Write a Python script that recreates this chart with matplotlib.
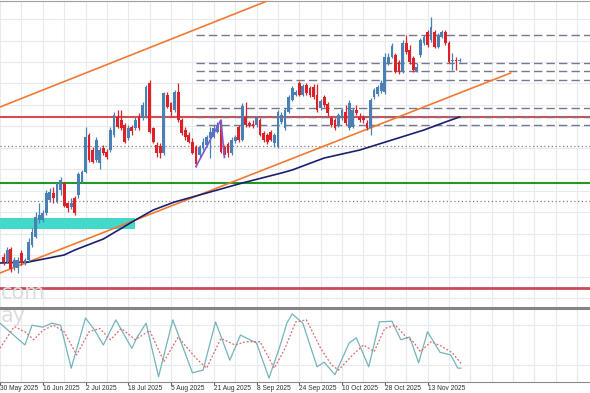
import matplotlib
matplotlib.use('Agg')
import matplotlib.pyplot as plt
from matplotlib.patches import Rectangle
import numpy as np

# daily candles, bar 0 = 30 May 2025 (first visible bar is 1)
opens = [147.17, 146.92, 147.53, 146.67, 146.58, 147.37, 146.83, 147.0, 147.75, 148.17,
         149.0, 149.0, 149.33, 150.0, 150.33, 149.92, 150.5, 150.83, 149.83, 149.63,
         150.08, 150.25, 150.92, 151.42, 153.25, 152.5, 152.0, 151.83, 152.58, 152.42,
         152.5, 153.25, 154.17, 154.0, 153.75, 153.08, 153.63, 153.58, 154.17, 154.08,
         154.17, 155.83, 153.58, 152.75, 152.7, 152.33, 155.25, 154.83, 154.5, 155.42,
         154.0, 153.5, 153.25, 152.92, 152.67, 152.25, 152.58, 152.75, 153.08, 153.17,
         153.42, 153.83, 152.67, 152.8, 152.35, 152.95, 153.65, 153.0, 154.15, 153.85,
         153.8, 153.75, 154.0, 153.35, 153.25, 153.4, 152.85, 152.65, 153.9, 153.6,
         154.4, 155.0, 155.25, 155.85, 155.25, 155.75, 155.6, 155.65, 155.25, 154.6,
         155.15, 154.8, 154.1, 154.0, 153.75, 154.1, 154.4, 153.6, 153.65, 154.5,
         154.15, 154.15, 153.85, 153.6, 155.15, 155.3, 155.45, 155.4, 156.85, 157.15,
         157.25, 156.9, 156.4, 157.85, 157.5, 157.1, 156.45, 157.25, 157.85, 158.4,
         158.0, 158.4, 157.65, 158.15, 158.4, 157.85, 156.95, 157.0, 156.95]
highs = [147.33, 147.67, 147.63, 147.17, 147.17, 147.5, 147.08, 148.08, 148.58, 149.42,
         149.83, 149.5, 150.5, 150.58, 150.67, 150.92, 151.17, 150.92, 149.92, 150.08,
         150.2, 151.42, 151.5, 153.67, 153.33, 152.67, 153.17, 152.67, 152.75, 152.53,
         153.67, 154.42, 154.5, 154.5, 153.83, 153.75, 153.75, 154.17, 154.33, 154.92,
         155.75, 156.0, 153.67, 152.92, 152.83, 155.42, 155.42, 154.92, 155.5, 155.83,
         154.08, 153.67, 153.42, 153.08, 152.75, 152.75, 153.08, 153.25, 153.67, 153.75,
         153.92, 154.0, 152.75, 152.92, 153.15, 153.25, 153.75, 154.85, 154.9, 153.95,
         154.0, 154.2, 154.1, 153.45, 153.35, 153.5, 153.35, 154.5, 154.4, 154.6,
         155.25, 155.7, 155.5, 155.95, 155.8, 155.85, 155.7, 155.8, 155.8, 155.05,
         155.25, 154.9, 154.2, 154.1, 154.35, 154.6, 154.75, 155.0, 154.6, 154.75,
         154.35, 154.25, 154.0, 155.1, 155.6, 155.75, 156.0, 157.35, 157.35, 157.85,
         157.35, 157.0, 158.0, 158.25, 157.75, 157.2, 156.85, 158.1, 158.25, 158.5,
         159.15, 158.5, 158.35, 158.5, 158.5, 157.95, 157.35, 157.15, 157.1]
lows = [146.75, 146.83, 146.42, 146.5, 146.37, 146.75, 146.75, 146.92, 147.67, 148.08,
        148.83, 148.92, 149.25, 149.92, 149.83, 149.83, 150.25, 149.63, 149.42, 149.53,
        149.25, 150.08, 150.83, 151.33, 151.92, 151.83, 151.92, 151.53, 152.25, 152.03,
        152.42, 153.17, 153.58, 153.5, 152.83, 153.0, 153.25, 153.5, 153.5, 154.0,
        154.08, 153.33, 152.83, 152.17, 152.08, 152.25, 154.58, 154.17, 154.42, 153.92,
        153.25, 153.0, 152.83, 152.3, 151.67, 152.17, 152.5, 152.67, 152.08, 153.08,
        153.33, 152.33, 152.13, 152.17, 152.25, 152.85, 152.9, 152.95, 153.65, 153.65,
        153.6, 153.65, 153.2, 152.9, 152.8, 152.95, 152.65, 152.6, 153.8, 153.5,
        154.35, 154.95, 155.2, 155.2, 155.2, 155.25, 155.15, 155.05, 154.4, 154.5,
        154.65, 154.2, 153.65, 153.5, 153.65, 154.0, 153.75, 153.5, 153.6, 154.25,
        153.9, 153.85, 153.5, 153.25, 155.05, 155.2, 155.35, 155.3, 156.75, 157.1,
        156.35, 156.3, 156.35, 157.3, 156.8, 156.4, 156.4, 157.15, 157.75, 157.65,
        157.9, 157.6, 157.6, 158.1, 157.75, 156.85, 156.5, 156.5, 156.9]
closes = [146.92, 147.5, 146.53, 147.0, 147.0, 146.83, 147.0, 147.92, 148.42, 149.17,
          149.25, 149.33, 150.33, 150.42, 150.08, 150.83, 151.0, 149.7, 149.58, 149.83,
          149.33, 151.3, 151.42, 153.17, 152.0, 151.92, 153.0, 152.5, 152.37, 152.13,
          153.5, 154.25, 153.67, 153.58, 152.92, 153.58, 153.47, 154.0, 153.58, 154.75,
          155.67, 153.42, 152.92, 152.33, 152.33, 155.33, 154.67, 154.42, 155.42, 154.0,
          153.33, 153.17, 152.92, 152.37, 151.8, 152.63, 152.92, 153.17, 153.42, 153.58,
          153.75, 152.42, 152.25, 152.33, 153.0, 153.15, 153.0, 154.7, 153.75, 153.75,
          153.7, 154.1, 153.25, 153.0, 152.9, 153.0, 153.25, 154.4, 154.25, 154.5,
          155.15, 155.6, 155.4, 155.25, 155.7, 155.35, 155.25, 155.15, 154.5, 154.95,
          154.75, 154.35, 153.75, 153.6, 154.25, 154.5, 153.85, 154.85, 154.5, 154.35,
          154.0, 154.0, 153.6, 155.0, 155.5, 155.65, 155.85, 157.15, 157.15, 157.7,
          156.4, 156.4, 157.85, 157.4, 156.9, 156.5, 156.65, 158.0, 158.15, 157.75,
          158.65, 157.65, 158.25, 158.4, 157.85, 156.9, 157.0, 156.95, 157.0]

# moving average read at a few bars
ma_idx = [0, 8, 18, 21, 29, 38, 43, 49, 61, 68, 79, 82, 91, 101, 110, 119, 125, 129]
ma_val = [146.85, 146.9, 147.25, 147.5, 148.05, 149.0, 149.5, 149.9, 150.5, 150.85,
          151.35, 151.5, 152.1, 152.5, 153.0, 153.5, 153.9, 154.15]

# trend channel
chan_low_x = [0, 143.3]
chan_low_y = [146.35, 156.35]
chan_up_x = [0, 75.7]
chan_up_y = [154.65, 160.0]

# zigzag drawn on the Aug dip
zz_idx = [55, 62, 63]
zz_val = [151.67, 154.0, 152.13]

# levels
fib_start = 55
fib_levels = [158.25, 156.85, 156.45, 156.0, 154.6, 154.15, 153.75]
red_levels = [154.15, 145.6]
green_level = 150.85
dotted_levels = [152.7, 149.95]
zone_x = [-3, 38.0]
zone_y = [148.55, 149.1]

# stochastic
k_idx = [0, 7, 9, 12, 14.5, 17, 20, 24, 26.5, 29, 32.5, 37, 38.5, 41, 44.5, 48.5,
         54, 57, 60.5, 64.5, 67.5, 72, 75.5, 78.5, 80.5, 82, 85, 89, 91, 94, 98, 100,
         103.5, 106.5, 110, 112.5, 115, 117.5, 120, 123.5, 126.5, 128.5, 129.4]
k_val = [83, 50, 80, 77, 83, 80, 15, 91, 73, 50, 88, 45, 62, 83, 2, 88,
         8, 12, 85, 27, 65, 53, 0, 47, 83, 97, 83, 17, 24, 5, 53, 61,
         17, 85, 86, 58, 62, 23, 70, 39, 35, 15, 15]
d_idx = [0, 4, 7, 9.5, 12, 15, 18, 21.5, 25, 28, 31, 34, 38, 42, 46, 50, 55, 58,
         62, 66, 69, 73, 77, 80, 83, 86, 90, 93, 95, 99, 102, 105, 108, 111, 114,
         116, 118, 121, 124, 127, 129.4]
d_val = [45, 78, 70, 58, 72, 80, 70, 35, 70, 75, 58, 75, 58, 72, 25, 62, 30, 15,
         60, 50, 55, 55, 15, 45, 85, 88, 45, 20, 12, 35, 50, 40, 75, 80, 62,
         55, 40, 55, 48, 38, 22]

date_ticks = list(range(0, 121, 12))
date_labels = ['30 May 2025', '16 Jun 2025', '2 Jul 2025', '18 Jul 2025', '5 Aug 2025',
               '21 Aug 2025', '8 Sep 2025', '24 Sep 2025', '10 Oct 2025', '28 Oct 2025',
               '13 Nov 2025']

BLUE = '#4a80b4'
RED = '#dc2228'
GRID = '#e6ebef'
W, H = 590, 393
XL = (5 / 3.593, 595 / 3.593)

fig = plt.figure(figsize=(W / 100, H / 100), dpi=100)
ax = fig.add_axes([0, 1 - 308 / H, 1, 307 / H])
ax2 = fig.add_axes([0, 11 / H, 1, 74 / H], sharex=ax)
ax.set_xlim(*XL)
ax.set_ylim(144.6, 159.95)
ax2.set_ylim(-6, 106)

# grid
for a in (ax, ax2):
    for gx in np.arange(0, 170, 6):
        a.axvline(gx, color=GRID, lw=0.8, zorder=0)
for gy in np.arange(159.05, 144, -1.075):
    ax.axhline(gy, color=GRID, lw=0.8, zorder=0)
for gy in (20, 80):
    ax2.axhline(gy, color=GRID, lw=0.8, zorder=0)

# zone and levels
ax.add_patch(Rectangle((zone_x[0], zone_y[0]), zone_x[1] - zone_x[0], zone_y[1] - zone_y[0],
                       color='#42d8ca', lw=0, zorder=1))
ax.axhline(red_levels[0], color='#d94a4f', lw=1.5, zorder=2)
ax.axhline(red_levels[1], color='#cc4a58', lw=2, zorder=2)
ax.axhline(green_level, color='#229922', lw=1.5, zorder=2)
for lv in dotted_levels:
    ax.axhline(lv, color='#907878', lw=0.9, ls=(0, (1, 2)), zorder=2)
for lv in fib_levels:
    ax.plot([fib_start, XL[1] + 5], [lv, lv], color='#77778e', lw=1, ls=(0, (6, 3)), zorder=2)

# channel, MA, zigzag
ax.plot(chan_low_x, chan_low_y, color='#f07a32', lw=1.2, zorder=3)
ax.plot(chan_up_x, chan_up_y, color='#f07a32', lw=1.2, zorder=3)
ax.plot(ma_idx, ma_val, color='#1b1f6e', lw=1.2, zorder=3)
ax.plot(zz_idx, zz_val, color='#7a5cd6', lw=1.2, zorder=5)

# candles
o, h, l, c = map(np.array, (opens, highs, lows, closes))
x = np.arange(1, len(o) + 1)
col = np.where(c >= o, BLUE, RED)
ax.vlines(x, l, h, colors=col, lw=0.9, zorder=4)
ax.bar(x, np.maximum(np.abs(c - o), 0.04), bottom=np.minimum(o, c), width=0.78,
       color=col, lw=0, zorder=4)

# stochastic
ax2.plot(k_idx, k_val, color='#74b4b8', lw=0.9)
ax2.plot(d_idx, d_val, color='#d86a6a', lw=0.9, ls=(0, (1.5, 1.5)))

# frame
for a in (ax, ax2):
    for s in ('left', 'right'):
        a.spines[s].set_visible(False)
ax.spines['top'].set_color('#a0a0a0')
ax.spines['bottom'].set_visible(False)
ax2.spines['top'].set_color('#858585')
ax2.spines['top'].set_linewidth(2.2)
ax2.spines['bottom'].set_color('#8a8a8a')
ax.tick_params(left=False, labelleft=False, bottom=False, labelbottom=False)
ax2.tick_params(axis='y', left=False, labelleft=False)
ax2.set_xticks(date_ticks)
ax2.set_xticklabels(date_labels, ha='left', fontfamily='Liberation Sans')
ax2.tick_params(axis='x', length=2, width=0.8, color='#606060', pad=0.5,
                labelsize=4.8, labelcolor='#303030')

# watermark remnants at the left edge
fig.text(0.5 / W, 1 - 293 / H, 'com', fontsize=15, color='#dcdcdc', va='center', ha='left')
fig.text(0.5 / W, 1 - 316 / H, 'ay', fontsize=15, color='#dcdcdc', va='center', ha='left')

fig.savefig('out.png', dpi=100)
